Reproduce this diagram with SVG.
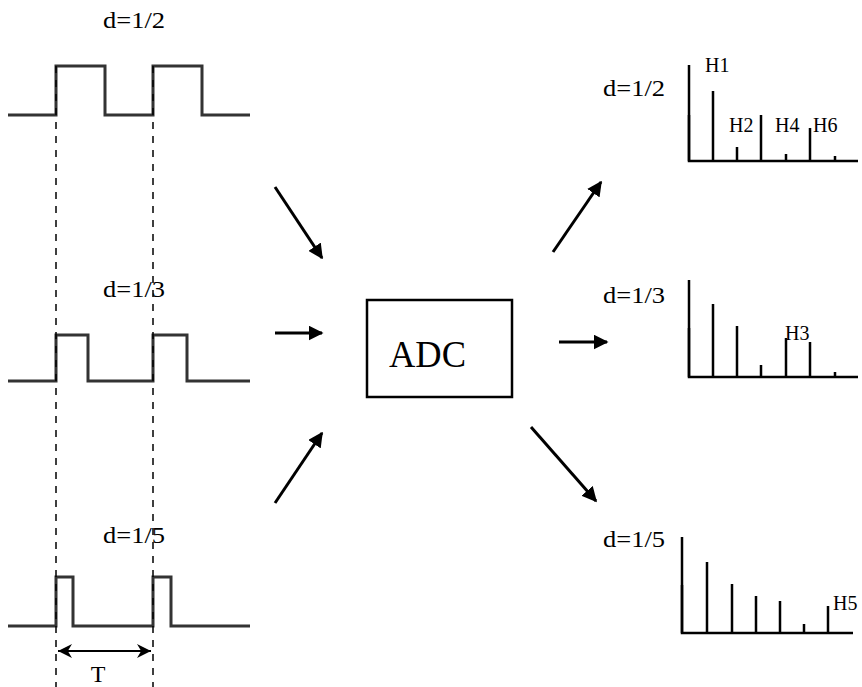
<svg xmlns="http://www.w3.org/2000/svg" width="862" height="687" viewBox="0 0 862 687">
<style>
  text{font-family:'Liberation Serif','Times New Roman','DejaVu Serif',serif;fill:#000}
  .lbl{font-size:24px}
  .h{font-size:20px}
  .wave{fill:none;stroke:#333;stroke-width:3}
  .dash{fill:none;stroke:#000;stroke-width:1.5;stroke-dasharray:7,7}
  .spec{fill:none;stroke:#000;stroke-width:2.5}
  .conn{fill:none;stroke:#000;stroke-width:3}
</style>
<defs>
  <marker id="ah" viewBox="0 0 10 10" refX="9" refY="5" markerWidth="5" markerHeight="5" markerUnits="strokeWidth" orient="auto">
    <path d="M0,0 L10,5 L0,10 Z" fill="#000"/>
  </marker>
  <marker id="st" viewBox="0 0 10 10" refX="10" refY="5" markerWidth="7" markerHeight="7" markerUnits="strokeWidth" orient="auto-start-reverse">
    <path d="M0,0 L10,5 L0,10 L3,5 Z" fill="#000"/>
  </marker>
</defs>
<rect width="862" height="687" fill="#fff"/>

<g id="wave-d2">
  <text class="lbl" x="103" y="28" textLength="62" lengthAdjust="spacingAndGlyphs">d=1/2</text>
  <path class="wave" d="M8,115 H56 V66 H105 V115 H153 V66 H202 V115 H250"/>
</g>
<g id="wave-d3">
  <text class="lbl" x="103" y="297" textLength="62" lengthAdjust="spacingAndGlyphs">d=1/3</text>
  <path class="wave" d="M8,381 H56 V335 H88 V381 H153 V335 H187 V381 H250"/>
</g>
<g id="wave-d5">
  <text class="lbl" x="103" y="543" textLength="62" lengthAdjust="spacingAndGlyphs">d=1/5</text>
  <path class="wave" d="M8,626 H56 V577 H73 V626 H153 V577 H171 V626 H250"/>
</g>
<g id="period">
  <line class="dash" x1="56" y1="66" x2="56" y2="687"/>
  <line class="dash" x1="153" y1="66" x2="153" y2="687"/>
  <line x1="58" y1="651" x2="151" y2="651" stroke="#000" stroke-width="2" marker-start="url(#st)" marker-end="url(#st)"/>
  <text class="lbl" x="98" y="682" text-anchor="middle">T</text>
</g>

<g id="adc">
  <rect x="367" y="300" width="145" height="97" fill="none" stroke="#000" stroke-width="2.5"/>
  <text x="389" y="367" font-size="37" textLength="77" lengthAdjust="spacingAndGlyphs">ADC</text>
</g>

<g id="spec-d2">
  <text class="lbl" x="603" y="96" textLength="62" lengthAdjust="spacingAndGlyphs">d=1/2</text>
  <path class="spec" d="M689,65 V161 H858"/>
  <path class="spec" d="M689,115 V161 M713,91 V161 M737,147 V161 M761,115 V161 M786,154 V161 M810,128 V161 M835,156 V161"/>
  <text class="h" x="705" y="72">H1</text>
  <text class="h" x="729" y="132">H2</text>
  <text class="h" x="775" y="132">H4</text>
  <text class="h" x="813" y="132">H6</text>
</g>
<g id="spec-d3">
  <text class="lbl" x="603" y="303" textLength="62" lengthAdjust="spacingAndGlyphs">d=1/3</text>
  <path class="spec" d="M689,280 V377 H858"/>
  <path class="spec" d="M689,328 V377 M713,304 V377 M737,326 V377 M761,365 V377 M786,338 V377 M810,342 V377 M835,372 V377"/>
  <text class="h" x="785" y="340">H3</text>
</g>
<g id="spec-d5">
  <text class="lbl" x="603" y="547" textLength="62" lengthAdjust="spacingAndGlyphs">d=1/5</text>
  <path class="spec" d="M682,537 V633 H853"/>
  <path class="spec" d="M682,585 V633 M707,562 V633 M732,584 V633 M756,596 V633 M780,601 V633 M804,624 V633 M828,606 V633"/>
  <text class="h" x="833" y="610">H5</text>
</g>

<g id="connectors">
  <line class="conn" x1="275" y1="187" x2="322" y2="258" marker-end="url(#ah)"/>
  <line class="conn" x1="275" y1="333" x2="322" y2="333" marker-end="url(#ah)"/>
  <line class="conn" x1="275" y1="503" x2="322" y2="433" marker-end="url(#ah)"/>
  <line class="conn" x1="553" y1="252" x2="601" y2="182" marker-end="url(#ah)"/>
  <line class="conn" x1="559" y1="342" x2="607" y2="342" marker-end="url(#ah)"/>
  <line class="conn" x1="531" y1="427" x2="596" y2="501" marker-end="url(#ah)"/>
</g>
</svg>
